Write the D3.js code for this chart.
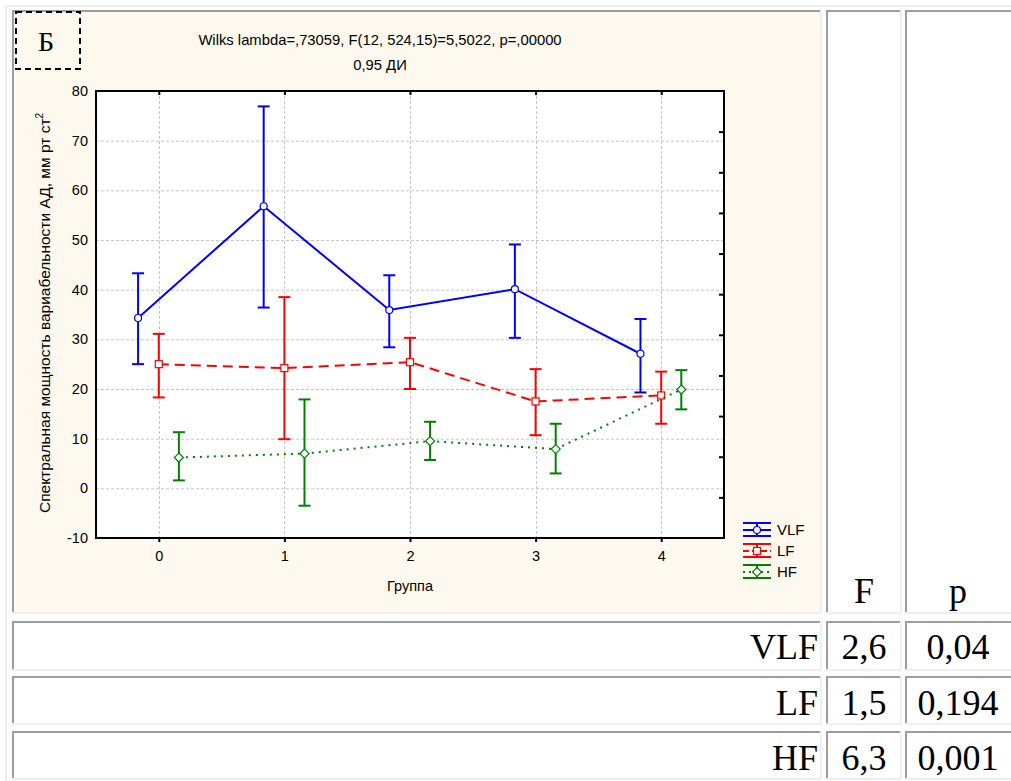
<!DOCTYPE html>
<html>
<head>
<meta charset="utf-8">
<script src="https://cdn.jsdelivr.net/npm/d3@7"></script>
<style>
  html, body { margin: 0; padding: 0; background: #ffffff; }
  svg { display: block; }
</style>
</head>
<body>
<svg id="fig" width="1011" height="781"></svg>
<script>
// Groups on the x axis
const groups = [0, 1, 2, 3, 4];
const yTicks = [-10, 0, 10, 20, 30, 40, 50, 60, 70, 80];

// Means and 0.95 confidence limits for each spectral band
const vlfMean = [34.3, 56.8, 35.9, 40.1, 27.1];
const vlfLow  = [25.0, 36.4, 28.4, 30.3, 19.3];
const vlfHigh = [43.3, 76.9, 42.9, 49.1, 34.1];

const lfMean = [25.0, 24.2, 25.4, 17.5, 18.7];
const lfLow  = [18.3,  9.9, 20.0, 10.7, 13.0];
const lfHigh = [31.1, 38.5, 30.3, 24.0, 23.5];

const hfMean = [6.2, 7.0, 9.5, 7.9, 19.9];
const hfLow  = [1.6, -3.5, 5.7, 3.0, 15.9];
const hfHigh = [11.3, 17.9, 13.4, 13.0, 23.8];

// Texts
const panelMark = "Б";
const titleLine1 = "Wilks lambda=,73059, F(12, 524,15)=5,5022, p=,00000";
const titleLine2 = "0,95 ДИ";
const yLabel = "Спектральная мощность вариабельности АД, мм рт ст";
const xLabel = "Группа";

// Table beside/below the chart
const tableHeader = ["F", "p"];
const rowLabels = ["VLF", "LF", "HF"];
const fValues = ["2,6", "1,5", "6,3"];
const pValues = ["0,04", "0,194", "0,001"];

const series = [
  { name: "VLF", mean: vlfMean, low: vlfLow, high: vlfHigh, color: "#0000ff", dash: null, shift: -0.165, marker: "circle" },
  { name: "LF",  mean: lfMean,  low: lfLow,  high: lfHigh,  color: "#ff0000", dash: "10,6", shift: 0, marker: "square" },
  { name: "HF",  mean: hfMean,  low: hfLow,  high: hfHigh,  color: "#008000", dash: "2,5", shift: 0.16, marker: "diamond" }
];

const svg = d3.select("#fig");
const sans = "'Liberation Sans', Arial, sans-serif";
const serif = "'Liberation Serif', 'Times New Roman', serif";

// ---------- table frame (inset cells) ----------
const outerLine = "#ececec";
svg.append("line").attr("x1", 6).attr("x2", 1011).attr("y1", 6).attr("y2", 6)
  .attr("stroke", outerLine).attr("stroke-width", 2);
svg.append("line").attr("x1", 6).attr("x2", 6).attr("y1", 6).attr("y2", 781)
  .attr("stroke", outerLine).attr("stroke-width", 2);

const colEdges = [[12, 822], [826, 902], [905, 1013]];
const rowEdges = [[10, 614], [621, 671], [676, 725], [731, 780]];

function cell(x0, x1, y0, y1, fill) {
  const g = svg.append("g");
  g.append("rect").attr("x", x0).attr("y", y0).attr("width", x1 - x0).attr("height", y1 - y0)
    .attr("fill", fill);
  // light bottom/right edges
  g.append("rect").attr("x", x0).attr("y", y1 - 2).attr("width", x1 - x0).attr("height", 2).attr("fill", "#efefef");
  g.append("rect").attr("x", x1 - 2).attr("y", y0).attr("width", 2).attr("height", y1 - y0).attr("fill", "#efefef");
  // dark top/left edges
  g.append("rect").attr("x", x0).attr("y", y0).attr("width", x1 - x0 - 2).attr("height", 2).attr("fill", "#9d9d9d");
  g.append("rect").attr("x", x0).attr("y", y0).attr("width", 2).attr("height", y1 - y0 - 2).attr("fill", "#9d9d9d");
}

rowEdges.forEach((r, ri) => {
  colEdges.forEach((c, ci) => {
    const fill = (ri === 0 && ci === 0) ? "#fdf9ee" : "#ffffff";
    cell(c[0], c[1], r[0], r[1], fill);
  });
});

// header cells
const colCenters = [864, 958];
tableHeader.forEach((t, i) => {
  svg.append("text").attr("x", colCenters[i]).attr("y", 603)
    .attr("text-anchor", "middle").attr("font-family", serif).attr("font-size", 36)
    .attr("fill", "#000").text(t);
});
const rowBase = [659, 715, 770];
rowLabels.forEach((t, i) => {
  svg.append("text").attr("x", 818).attr("y", rowBase[i]).attr("text-anchor", "end")
    .attr("font-family", serif).attr("font-size", 36).attr("fill", "#000").text(t);
  svg.append("text").attr("x", colCenters[0]).attr("y", rowBase[i]).attr("text-anchor", "middle")
    .attr("font-family", serif).attr("font-size", 36).attr("fill", "#000").text(fValues[i]);
  svg.append("text").attr("x", colCenters[1]).attr("y", rowBase[i]).attr("text-anchor", "middle")
    .attr("font-family", serif).attr("font-size", 36).attr("fill", "#000").text(pValues[i]);
});

// ---------- panel mark ----------
svg.append("rect").attr("x", 16).attr("y", 12).attr("width", 64).attr("height", 57)
  .attr("fill", "none").attr("stroke", "#000").attr("stroke-width", 2).attr("stroke-dasharray", "6,4");
svg.append("text").attr("x", 46).attr("y", 51).attr("text-anchor", "middle")
  .attr("font-family", serif).attr("font-size", 28).attr("fill", "#000").text(panelMark);

// ---------- titles ----------
svg.append("text").attr("x", 380).attr("y", 45).attr("text-anchor", "middle")
  .attr("font-family", sans).attr("font-size", 14.8).attr("fill", "#000").text(titleLine1);
svg.append("text").attr("x", 380).attr("y", 70).attr("text-anchor", "middle")
  .attr("font-family", sans).attr("font-size", 14.8).attr("fill", "#000").text(titleLine2);

// ---------- plot ----------
const plot = { left: 96, right: 724, top: 91, bottom: 538 };
const x = d3.scaleLinear().domain([-0.5, 4.5]).range([plot.left, plot.right]);
const y = d3.scaleLinear().domain([-10, 80]).range([plot.bottom, plot.top]);

svg.append("rect").attr("x", plot.left).attr("y", plot.top)
  .attr("width", plot.right - plot.left).attr("height", plot.bottom - plot.top).attr("fill", "#ffffff");

// grid
const grid = svg.append("g").attr("stroke", "#c6c6c6").attr("stroke-width", 1).attr("stroke-dasharray", "3,2");
grid.selectAll("line.h").data(yTicks.filter(v => v > -10 && v < 80)).join("line")
  .attr("x1", plot.left).attr("x2", plot.right).attr("y1", d => y(d) + 0.5).attr("y2", d => y(d) + 0.5);
grid.selectAll("line.v").data(groups).join("line")
  .attr("x1", d => Math.round(x(d)) + 0.5).attr("x2", d => Math.round(x(d)) + 0.5)
  .attr("y1", plot.top).attr("y2", plot.bottom);

// axes
const plainNum = d => String(d);
const leftAxis = svg.append("g").attr("transform", `translate(${plot.left},0)`)
  .call(d3.axisLeft(y).tickValues(yTicks).tickSize(0).tickPadding(8).tickFormat(plainNum));
const bottomAxis = svg.append("g").attr("transform", `translate(0,${plot.bottom})`)
  .call(d3.axisBottom(x).tickValues(groups).tickSize(4).tickPadding(9).tickFormat(plainNum));
const topAxis = svg.append("g").attr("transform", `translate(0,${plot.top})`)
  .call(d3.axisBottom(x).tickValues(groups).tickSize(4).tickFormat(""));
const rightScale = d3.scaleLinear().domain([0, 11]).range([plot.bottom, plot.top]);
const rightAxis = svg.append("g").attr("transform", `translate(${plot.right},0)`)
  .call(d3.axisLeft(rightScale).tickValues(d3.range(1, 11)).tickSize(5).tickFormat(""));

[leftAxis, bottomAxis, topAxis, rightAxis].forEach(a => {
  a.select(".domain").remove();
  a.selectAll(".tick line").attr("stroke", "#000").attr("stroke-width", 2);
  a.selectAll("text").attr("font-family", sans).attr("font-size", 14.5).attr("fill", "#000");
});

// frame
svg.append("rect").attr("x", plot.left).attr("y", plot.top)
  .attr("width", plot.right - plot.left).attr("height", plot.bottom - plot.top)
  .attr("fill", "none").attr("stroke", "#000").attr("stroke-width", 2);

// marker shapes
function drawMarker(g, type, cx, cy, color) {
  if (type === "circle") {
    g.append("circle").attr("cx", cx).attr("cy", cy).attr("r", 3.5)
      .attr("fill", "#fff").attr("stroke", color).attr("stroke-width", 1.2);
  } else if (type === "square") {
    g.append("rect").attr("x", cx - 3.5).attr("y", cy - 3.5).attr("width", 7).attr("height", 7)
      .attr("fill", "#fff").attr("stroke", color).attr("stroke-width", 1.2);
  } else {
    g.append("path").attr("d", `M${cx},${cy - 4.5}L${cx + 4.5},${cy}L${cx},${cy + 4.5}L${cx - 4.5},${cy}Z`)
      .attr("fill", "#fff").attr("stroke", color).attr("stroke-width", 1.2);
  }
}

// series lines, error bars, markers
const cap = 6;
series.forEach(s => {
  const g = svg.append("g");
  const line = d3.line().x((d, i) => x(groups[i] + s.shift)).y(d => y(d));
  g.append("path").attr("d", line(s.mean)).attr("fill", "none")
    .attr("stroke", s.color).attr("stroke-width", 2)
    .attr("stroke-dasharray", s.dash);
  groups.forEach((gv, i) => {
    const cx = x(gv + s.shift);
    g.append("line").attr("x1", cx).attr("x2", cx).attr("y1", y(s.low[i])).attr("y2", y(s.high[i]))
      .attr("stroke", s.color).attr("stroke-width", 2);
    [s.low[i], s.high[i]].forEach(v => {
      g.append("line").attr("x1", cx - cap).attr("x2", cx + cap).attr("y1", y(v)).attr("y2", y(v))
        .attr("stroke", s.color).attr("stroke-width", 2);
    });
  });
  groups.forEach((gv, i) => drawMarker(g, s.marker, x(gv + s.shift), y(s.mean[i]), s.color));
});

// axis labels
const yl = svg.append("text").attr("transform", "translate(50,313) rotate(-90)")
  .attr("text-anchor", "middle").attr("font-family", sans).attr("font-size", 15.5).attr("fill", "#000");
yl.append("tspan").text(yLabel);
yl.append("tspan").attr("dy", -7).attr("font-size", 10).text("2");

svg.append("text").attr("x", 410).attr("y", 591).attr("text-anchor", "middle")
  .attr("font-family", sans).attr("font-size", 14.5).attr("fill", "#000").text(xLabel);

// legend
const legendY = [530, 551, 572];
series.forEach((s, i) => {
  const g = svg.append("g");
  const cy = legendY[i];
  const x0 = 743, x1 = 771, cx = (x0 + x1) / 2;
  [cy - 7, cy + 6].forEach(yy => {
    g.append("line").attr("x1", x0).attr("x2", x1).attr("y1", yy).attr("y2", yy)
      .attr("stroke", s.color).attr("stroke-width", 2);
  });
  g.append("line").attr("x1", cx).attr("x2", cx).attr("y1", cy - 7).attr("y2", cy + 6)
    .attr("stroke", s.color).attr("stroke-width", 2);
  g.append("line").attr("x1", x0).attr("x2", x1).attr("y1", cy).attr("y2", cy)
    .attr("stroke", s.color).attr("stroke-width", 2).attr("stroke-dasharray", s.dash ? (s.name === "LF" ? "6,3" : "2,4") : null);
  drawMarker(g, s.marker, cx, cy, s.color);
  g.append("text").attr("x", 777).attr("y", cy + 5).attr("font-family", sans).attr("font-size", 15)
    .attr("fill", "#000").text(s.name);
});
</script>
</body>
</html>
